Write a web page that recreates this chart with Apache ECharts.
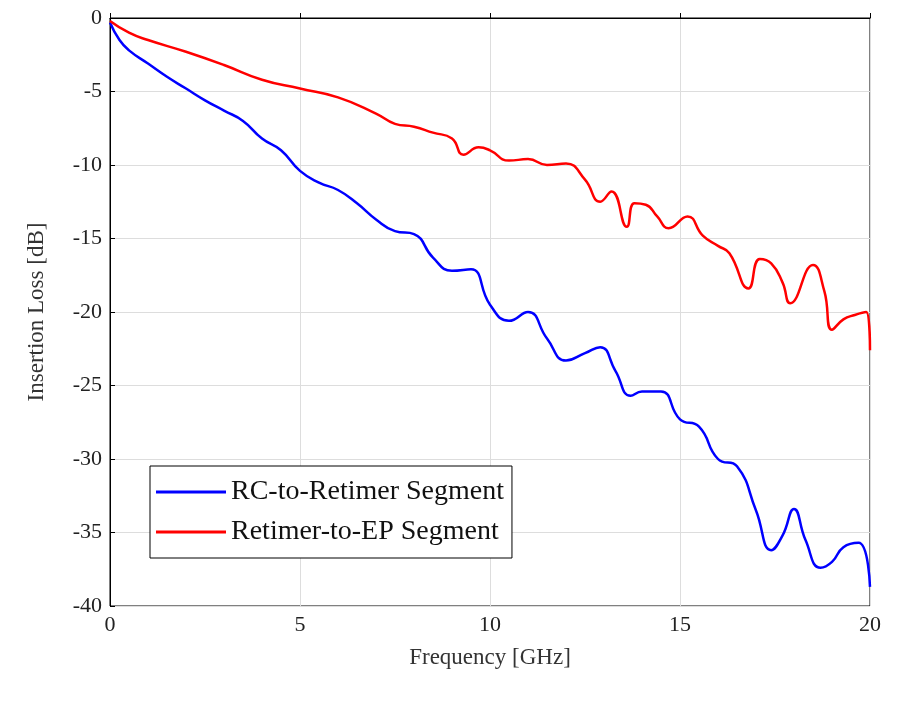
<!DOCTYPE html>
<html><head><meta charset="utf-8">
<script src="https://cdn.jsdelivr.net/npm/echarts@6/dist/echarts.min.js"></script>
<style>body{margin:0;background:#fff}#main{width:900px;height:706px}</style>
</head><body><div id="main"></div>
<script>
var blueFreq=[0,0.25,0.5,1,1.5,2,2.5,3,3.5,4,4.5,5,5.5,6,6.5,7,7.5,8,8.5,9,9.5,10,10.5,11,11.5,12,12.5,12.9,13.3,13.7,14,14.5,15,15.5,16,16.5,17,17.4,17.7,18,18.3,18.7,19,19.3,19.7,20];
var blueLoss=[-0.3,-1.5,-2.2,-3.1,-4,-4.8,-5.6,-6.3,-7,-8.2,-9,-10.4,-11.2,-11.7,-12.6,-13.7,-14.5,-14.7,-16.3,-17.2,-17.1,-19.5,-20.6,-20,-21.8,-23.3,-22.8,-22.4,-24,-25.7,-25.4,-25.4,-27.3,-27.8,-30,-30.5,-33.5,-36.2,-35.2,-33.4,-35.5,-37.4,-37,-36,-35.7,-38.7];
var redFreq=[0,0.5,1,2,3,4,5,6,7,7.5,8,8.5,9,9.3,9.7,10,10.5,11,11.5,12,12.5,12.9,13.2,13.6,13.8,14.1,14.4,14.7,15.2,15.6,16,16.3,16.8,17.1,17.4,17.7,17.9,18.5,18.8,19,19.3,19.6,19.9,20];
var redLoss=[-0.2,-1,-1.5,-2.3,-3.2,-4.2,-4.8,-5.4,-6.5,-7.2,-7.4,-7.8,-8.2,-9.3,-8.8,-9,-9.7,-9.6,-10,-9.9,-11,-12.5,-11.8,-14.2,-12.6,-12.7,-13.5,-14.3,-13.5,-14.8,-15.5,-16,-18.4,-16.4,-16.7,-18,-19.4,-16.8,-18.6,-21.2,-20.5,-20.2,-20,-22.6];
function pairs(x,y){var t=[];for(var i=0;i<x.length;i++)t.push([x[i],y[i]]);return t;}
var font='"Liberation Serif", serif';
var ax={axisLine:{lineStyle:{color:'#000'}},axisTick:{inside:true,lineStyle:{color:'#000'}},
  axisLabel:{color:'#222',fontSize:22,fontFamily:font},splitLine:{show:true,lineStyle:{color:'#ddd'}},
  nameTextStyle:{color:'#333',fontSize:23,fontFamily:font},nameLocation:'middle'};
var chart=echarts.init(document.getElementById('main'));
chart.setOption({
  animation:false,
  grid:{left:110,right:30,top:18,bottom:100,show:true,borderColor:'#000',borderWidth:1},
  xAxis:Object.assign({type:'value',min:0,max:20,interval:5,name:'Frequency [GHz]',nameGap:40},ax),
  yAxis:Object.assign({type:'value',min:-40,max:0,interval:5,name:'Insertion Loss [dB]',nameGap:62},ax),
  legend:{left:150,top:466,orient:'vertical',itemWidth:70,itemHeight:3,itemGap:12,padding:[12,8,12,6],
    backgroundColor:'#fff',borderColor:'#000',borderWidth:1,
    textStyle:{fontSize:28,fontFamily:font,color:'#111'},icon:'rect'},
  series:[
    {name:'RC-to-Retimer Segment',type:'line',smooth:true,showSymbol:false,lineStyle:{color:'#0000ff',width:2.5},itemStyle:{color:'#0000ff'},data:pairs(blueFreq,blueLoss)},
    {name:'Retimer-to-EP Segment',type:'line',smooth:true,showSymbol:false,lineStyle:{color:'#ff0000',width:2.5},itemStyle:{color:'#ff0000'},data:pairs(redFreq,redLoss)}
  ]
});
</script></body></html>
